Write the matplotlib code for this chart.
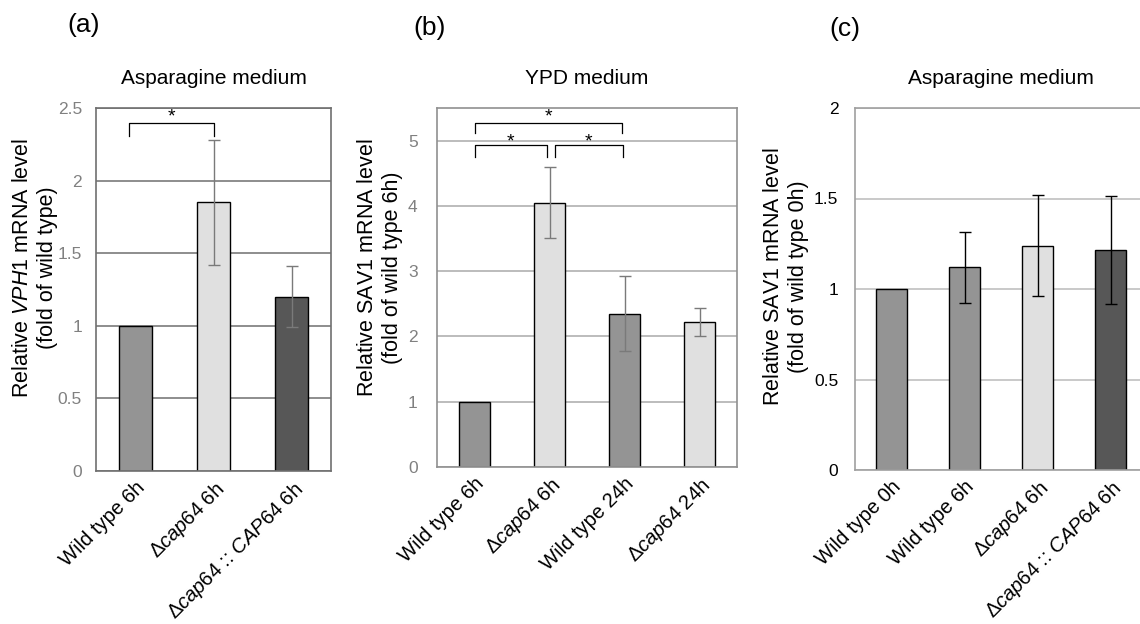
import matplotlib
matplotlib.use("Agg")
import matplotlib.pyplot as plt
import numpy as np

plt.rcParams['font.family'] = ['Liberation Sans', 'DejaVu Sans']
plt.rcParams['mathtext.fontset'] = 'custom'
plt.rcParams['mathtext.rm'] = 'Liberation Sans'
plt.rcParams['mathtext.it'] = 'Liberation Sans:italic'

# ---- data ----
cats_a = ["Wild type 6h", "Δ$\\it{cap64}$ 6h", "Δ$\\it{cap64}$ :: $\\it{CAP64}$ 6h"]
vals_a = [1.0, 1.85, 1.20]
errs_a = [0.0, 0.43, 0.21]
cols_a = ["#949494", "#e0e0e0", "#575757"]

cats_b = ["Wild type 6h", "Δ$\\it{cap64}$ 6h", "Wild type 24h", "Δ$\\it{cap64}$ 24h"]
vals_b = [1.0, 4.05, 2.35, 2.22]
errs_b = [0.0, 0.54, 0.57, 0.22]
cols_b = ["#949494", "#e0e0e0", "#949494", "#e0e0e0"]

cats_c = ["Wild type 0h", "Wild type 6h", "Δ$\\it{cap64}$ 6h", "Δ$\\it{cap64}$ :: $\\it{CAP64}$ 6h"]
vals_c = [1.0, 1.12, 1.24, 1.215]
errs_c = [0.0, 0.195, 0.28, 0.30]
cols_c = ["#949494", "#949494", "#e0e0e0", "#575757"]

# significance brackets: (x_left, x_right, y_top, y_tip, y_star)
sig_a = [(-0.08, 1.0, 2.40, 2.31, 2.44)]
sig_b = [(0.0, 1.97, 5.27, 5.12, 5.36),
         (0.0, 0.96, 4.93, 4.75, 4.98),
         (1.07, 1.98, 4.93, 4.75, 4.98)]

W, H = 1140, 624
fig = plt.figure(figsize=(W / 100, H / 100), dpi=100)


def px_axes(l, r, t, b):
    return fig.add_axes([l / W, 1 - b / H, (r - l) / W, (b - t) / H])


def panel(ax, cats, vals, errs, cols, ymax, ystep, title, ylabel, ylab_xy,
          tickcol, gridcol, framecol, errcol, sigs, letter, letter_xy, tpad):
    x = np.arange(len(cats))
    ax.set_axisbelow(True)
    ax.bar(x, vals, width=0.42, color=cols, edgecolor="black", linewidth=1.0, zorder=2)
    ax.errorbar(x[1:], vals[1:], yerr=errs[1:], fmt="none", ecolor=errcol,
                elinewidth=1.0, capsize=4, capthick=1.0, zorder=3)
    ax.set_xlim(-0.5, len(cats) - 0.5)
    ax.set_ylim(0, ymax)
    ticks = np.arange(0, ymax + 1e-9, ystep)
    ax.set_yticks(ticks)
    ax.set_yticklabels([f"{t:g}" for t in ticks])
    ax.yaxis.grid(True, color=gridcol, linewidth=1.2)
    ax.tick_params(axis="y", length=0, labelsize=12.5, labelcolor=tickcol, pad=tpad)
    ax.tick_params(axis="x", length=0, pad=5)
    ax.set_xticks(x)
    ax.set_xticklabels(cats, rotation=45, ha="right", rotation_mode="anchor", fontsize=14.5)
    for s in ax.spines.values():
        s.set_color(framecol)
        s.set_linewidth(1.2)
    ax.set_title(title, fontsize=15, pad=17)
    fig.text(ylab_xy[0] / W, 1 - ylab_xy[1] / H, ylabel, rotation=90, fontsize=15.5,
             ha="center", va="center", multialignment="center", linespacing=1.2)
    for (xl, xr, yt, yb, ys) in sigs:
        ax.plot([xl, xl, xr, xr], [yb, yt, yt, yb], color="black", lw=0.9,
                clip_on=False, zorder=4)
        ax.text((xl + xr) / 2, ys, "*", ha="center", va="center", fontsize=14)
    fig.text(letter_xy[0] / W, 1 - letter_xy[1] / H, letter, fontsize=19,
             ha="center", va="center")


ax_a = px_axes(96, 331, 108, 471)
panel(ax_a, cats_a, vals_a, errs_a, cols_a, 2.5, 0.5, "Asparagine medium",
      "Relative $\\it{VPH1}$ mRNA level\n(fold of wild type)", (35, 268),
      "#808080", "#7a7a7a", "#707070", "#7a7a7a", sig_a, "(a)", (84, 25), 10)

ax_b = px_axes(437, 737, 108, 467)
panel(ax_b, cats_b, vals_b, errs_b, cols_b, 5.5, 1, "YPD medium",
      "Relative SAV$\\it{1}$ mRNA level\n(fold of wild type 6h)", (380, 268),
      "#808080", "#b0b0b0", "#909090", "#7a7a7a", sig_b, "(b)", (430, 28), 14)

ax_c = px_axes(855, 1147, 108, 470)
panel(ax_c, cats_c, vals_c, errs_c, cols_c, 2.0, 0.5, "Asparagine medium",
      "Relative SAV$\\it{1}$ mRNA level\n(fold of wild type 0h)", (786, 277),
      "#000000", "#c0c0c0", "#a0a0a0", "#000000", [], "(c)", (845, 29), 12)

fig.savefig("out.png", dpi=100)
